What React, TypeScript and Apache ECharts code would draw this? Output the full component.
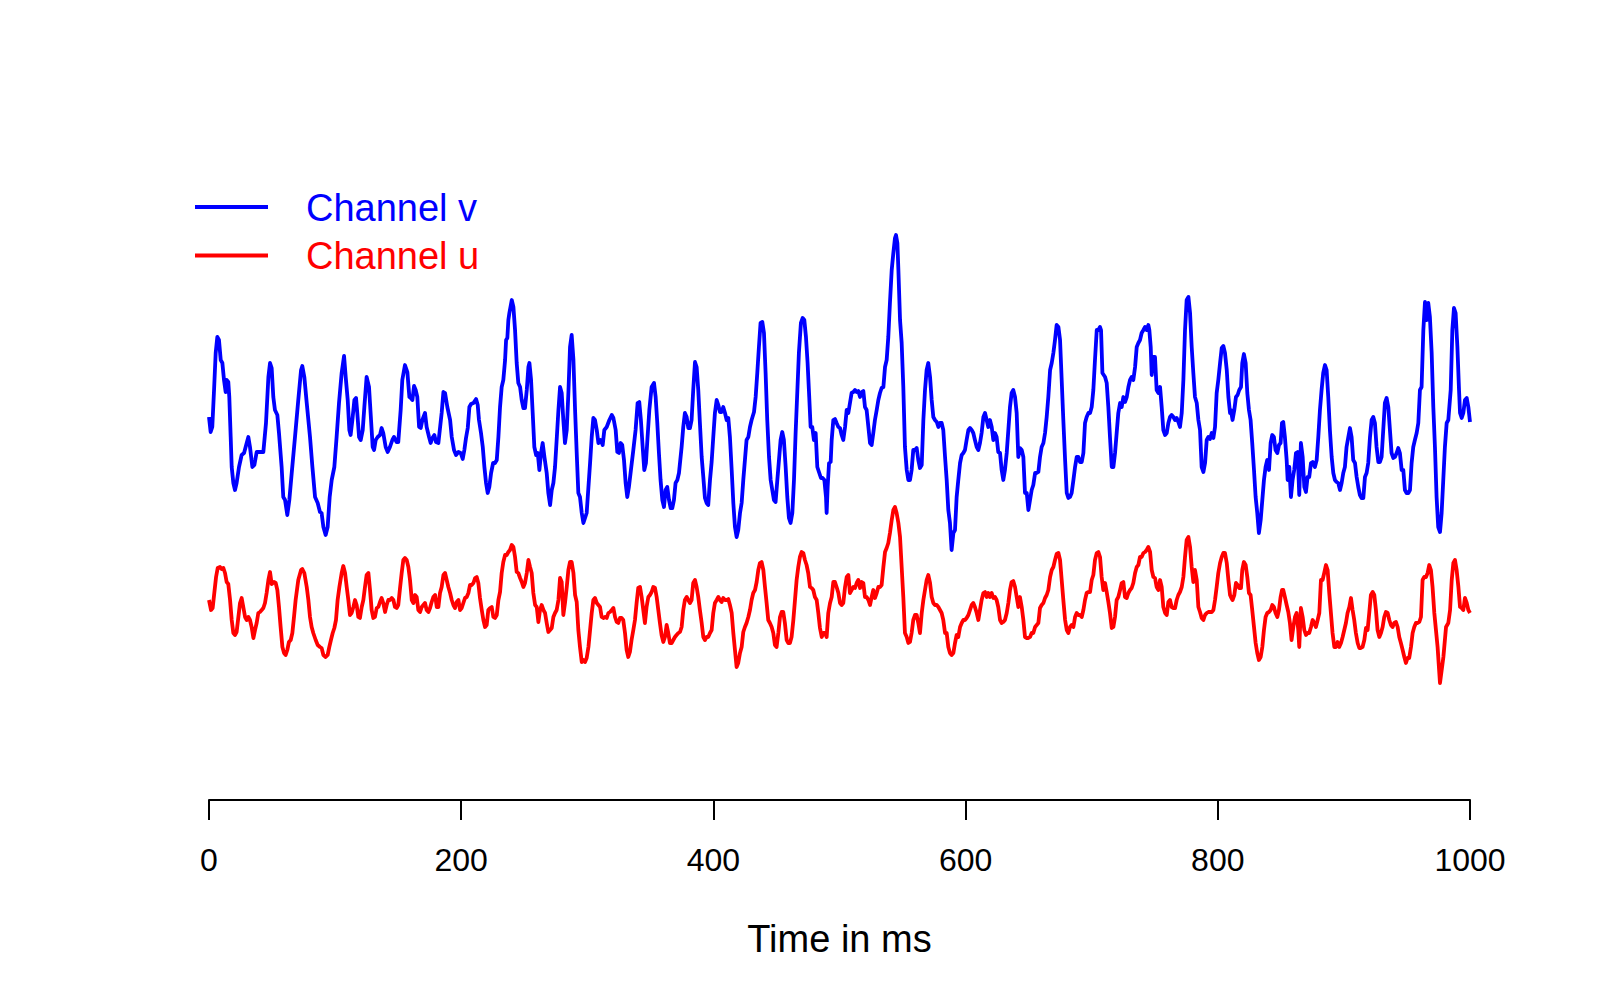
import React, { useEffect, useRef } from "react";
import * as echarts from "echarts";

// [time in ms, amplitude] samples
const channelV: number[][] = [
  [0,3.83],[1.3,3.68],[2.6,3.73],[4,4.1],[5.3,4.47],[6.6,4.63],[7.9,4.6],[9.3,4.4],[10.6,4.37],[11.9,4.2],[13.2,4.08],[14,4.2],[15.3,4.18],[16.1,4.03],[17.2,3.63],[18,3.33],[19.3,3.17],[20.6,3.1],[21.9,3.17],[23.8,3.33],[25.9,3.45],[27.8,3.47],[29.9,3.57],[31.2,3.63],[32.5,3.53],[34.4,3.33],[36,3.35],[37.8,3.48],[40.4,3.48],[43.1,3.48],[45.2,3.77],[47.1,4.23],[48.4,4.37],[49.7,4.32],[51,4.03],[52.3,3.9],[54.2,3.85],[55.5,3.67],[57.6,3.33],[58.9,3.03],[60.3,3],[62.1,2.85],[63.7,3],[65.6,3.27],[68.2,3.63],[70.8,4],[73,4.3],[74,4.34],[75.6,4.23],[77.5,3.97],[80.1,3.63],[82,3.33],[84.1,3.03],[86.2,2.97],[88,2.88],[89.3,2.87],[90.7,2.73],[92.5,2.65],[94.1,2.73],[95.7,3.03],[97.3,3.2],[99.4,3.33],[101.2,3.63],[103.1,3.97],[105.2,4.27],[107.1,4.44],[108.4,4.23],[110,4],[111.3,3.7],[112.3,3.65],[113.7,3.8],[115.3,4],[116.6,4.02],[117.6,3.87],[119,3.63],[120.3,3.6],[121.9,3.7],[123.2,3.93],[125,4.23],[126.9,4.13],[128.5,3.8],[129.8,3.53],[130.9,3.5],[132.2,3.6],[133.8,3.63],[135.6,3.65],[136.9,3.72],[138.2,3.67],[140.1,3.53],[141.7,3.48],[143.5,3.53],[145.4,3.6],[146.7,3.63],[148.8,3.58],[150.1,3.58],[152,3.9],[153.3,4.2],[155.4,4.35],[157.3,4.28],[158.9,4.03],
  [160,4.02],[161.3,4],[162.6,4.14],[163.9,4.1],[165.2,4.03],[166.6,3.73],[167.9,3.72],[169.2,3.8],[171.3,3.87],[172.6,3.73],[174.5,3.63],[175.8,3.57],[177.1,3.62],[178.7,3.65],[180,3.58],[181.9,3.57],[183.2,3.72],[184.5,3.87],[185.9,4.08],[187.2,4.07],[189,3.93],[191.2,3.8],[192.5,3.63],[194.3,3.5],[195.9,3.45],[197.8,3.48],[199.6,3.47],[201.2,3.41],[202.5,3.5],[203.8,3.62],[205.2,3.72],[206.5,3.93],[207.8,3.96],[209.7,3.97],[211.8,4.01],[213.1,3.95],[214.1,3.8],[215.7,3.67],[217.1,3.53],[218.4,3.33],[219.7,3.17],[221,3.07],[222.3,3.13],[223.7,3.27],[225.3,3.37],[226.8,3.37],[228.2,3.4],[229.5,3.63],[230.8,3.93],[232.1,4.13],[233.4,4.2],[234.8,4.4],[235.6,4.6],[236.6,4.62],[237.4,4.8],[238.2,4.87],[240.1,5],[241.4,4.93],[242.7,4.7],[244,4.37],[245.3,4.17],[246.7,4.13],[248,4],[249.3,3.92],[250.6,3.92],[252,4.1],[253.3,4.33],[254.1,4.37],[255.4,4.2],[256.7,3.87],[258,3.53],[259.4,3.45],[260.7,3.47],[262,3.3],[263.3,3.47],[264.6,3.57],[266,3.43],[267.8,3.27],[269.1,3.07],[270.5,2.95],[271.8,3.1],[273.1,3.17],[274.4,3.33],[275.7,3.6],[277.1,3.9],[278.4,4.13],[279.7,4.07],[281,3.8],[282.3,3.57],[283.7,3.7],[285,4.07],[286.3,4.53],[287.6,4.65],[289,4.4],[290.3,3.9],[291.6,3.47],[292.9,3.07],[294.2,3.03],[295.6,2.87],[296.9,2.77],[298.2,2.82],[299.5,2.87],[300.9,3.13],[302.2,3.37],[303.5,3.63],[304.8,3.82],[306.1,3.8],[307.5,3.7],[308.8,3.57],[310.6,3.6],[312.2,3.55],[313.5,3.7],[315.4,3.73],[317.5,3.8],[319.4,3.85],[320.7,3.82],
  [322.5,3.7],[323.8,3.48],[325.1,3.47],[326.4,3.57],[327.7,3.55],[329.1,3.4],[330.4,3.17],[331.7,3.03],[333,3.13],[334.6,3.3],[336.5,3.5],[338.3,3.7],[339.9,3.97],[341.2,3.98],[342.5,3.8],[343.9,3.53],[345.2,3.3],[346.5,3.37],[347.8,3.63],[349.2,3.9],[351,4.13],[352.9,4.17],[354.2,4.03],[355.5,3.77],[356.8,3.47],[358.1,3.2],[359.5,3],[360.8,2.93],[362.1,3.1],[363.4,3.13],[364.8,3],[366.1,2.92],[367.4,2.92],[368.7,3],[370,3.17],[371.4,3.2],[372.7,3.27],[374.8,3.53],[376.1,3.73],[377.4,3.87],[378.8,3.83],[380.1,3.72],[381.4,3.72],[382.7,3.8],[384,4.1],[385.4,4.38],[386.7,4.33],[388,4.1],[389.3,3.77],[390.7,3.43],[392,3.23],[393.3,3.02],[394.6,2.97],[395.9,2.95],[397.3,3.2],[398.6,3.38],[399.9,3.63],[401.2,3.87],[402.6,4],[403.9,3.95],[405.2,3.88],[406.5,3.88],[407.8,3.93],[409.2,3.87],[410.5,3.8],[411.8,3.82],[413.1,3.63],[414.5,3.3],[415.8,2.97],[417.1,2.73],[418.4,2.63],[419.7,2.7],[421.1,2.87],[422.4,2.97],[423.7,3.2],[425,3.4],[426.3,3.6],[427.7,3.63],[429,3.73],[430.3,3.8],[432.2,3.88],[433.5,4.03],[434.8,4.27],[436.1,4.53],[437.4,4.77],[438.8,4.78],[440.1,4.67],[441.4,4.27],[442.7,3.8],[444.1,3.43],[445.4,3.2],[446.7,3.1],[448,3],[449.3,2.98],[450.7,3.2],[452,3.4],[453.3,3.6],[454.6,3.68],[455.9,3.6],[457.3,3.33],[458.6,3.03],[459.9,2.82],[461.2,2.77],[462.6,2.87],[463.9,3.2],[465.2,3.67],[466.5,4.07],[467.8,4.47],[469.4,4.77],[470.8,4.82],[472.1,4.8],[473.4,4.63],[474.7,4.37],[476,4.03],[477.1,3.73],[478.4,3.73],[479.7,3.6],[481.1,3.67],[482.4,3.33],[483.7,3.28],
  [485.3,3.22],[486.6,3.22],[488,3.2],[489.3,3.03],[489.8,2.87],[490.6,3.13],[491.7,3.37],[493,3.38],[493.8,3.6],[495.1,3.8],[496.4,3.81],[497.7,3.77],[499.1,3.73],[500.4,3.72],[501.7,3.65],[503,3.6],[504.4,3.73],[505.7,3.9],[507,3.87],[508.3,3.97],[509.6,4.07],[511,4.08],[512.3,4.1],[513.6,4.08],[514.9,4.09],[516.3,4.03],[517.6,4.08],[518.9,4.09],[520.2,3.93],[521.5,3.9],[522.9,3.73],[524.2,3.57],[525.5,3.55],[526.8,3.67],[528.1,3.8],[529.5,3.9],[530.8,4],[532.1,4.07],[533.4,4.12],[534.8,4.13],[536.1,4.33],[537.4,4.4],[538.7,4.63],[540,4.97],[541.4,5.3],[542.7,5.47],[544,5.62],[544.8,5.65],[545.9,5.57],[546.7,5.3],[548,4.8],[549.3,4.57],[550.6,4.13],[551.9,3.53],[553.3,3.3],[554.6,3.2],[555.9,3.2],[557.2,3.3],[558.5,3.5],[559.9,3.5],[561.2,3.52],[562.5,3.4],[563.8,3.32],[565.2,3.35],[566.5,3.8],[567.8,4.1],[569.1,4.3],[570.4,4.37],[571.8,4.23],[573.1,4],[574.4,3.83],[575.7,3.8],[577.1,3.78],[578.4,3.73],[579.7,3.77],[581,3.77],[582.3,3.7],[583.7,3.43],[585,3.2],[586.3,2.9],[587.6,2.77],[588.9,2.5],[590.3,2.67],[591.6,2.7],[592.9,3.03],[594.2,3.2],[595.6,3.37],[596.9,3.45],[598.2,3.47],[599.5,3.5],[600.8,3.6],[602.2,3.7],[603.5,3.72],[604.8,3.7],[606.1,3.67],[607.4,3.6],[608.8,3.53],[610.1,3.5],[611.4,3.57],[612.7,3.67],[614.1,3.83],[615.4,3.87],[616.7,3.8],[618,3.73],[619.3,3.8],[620.7,3.73],[622,3.6],[623.3,3.67],[624.6,3.63],[625.9,3.48],[627.3,3.47],[628.6,3.3],[629.9,3.2],[631.2,3.3],[632.6,3.47],[633.9,3.7],[635.2,3.93],[636.5,4.07],[637.8,4.1],[639.2,4.03],[640.5,3.87],[641.8,3.43],[643.1,3.52],[644.5,3.5],[645.8,3.43],[647.1,3.07],
  [648.5,3.07],[649.8,2.9],[651.1,3],[652.4,3.1],[653.7,3.15],[655.1,3.27],[656.4,3.27],[657.7,3.28],[659,3.43],[660.3,3.53],[661.7,3.57],[663,3.67],[664.3,3.83],[665.6,4.03],[667,4.3],[668.3,4.37],[669.6,4.47],[670.9,4.6],[672.2,4.75],[673.6,4.73],[674.9,4.6],[676.2,4.2],[677.5,3.8],[678.9,3.4],[680.2,3.07],[681.5,3.02],[682.8,3.03],[684.1,3.07],[685.5,3.2],[686.8,3.33],[688.1,3.43],[689.4,3.43],[690.7,3.38],[692.1,3.38],[693.4,3.47],[694.7,3.77],[696,3.83],[697.4,3.87],[698.7,3.87],[700,3.93],[701.3,4.1],[702.6,4.4],[704,4.7],[705.3,4.7],[706.6,4.73],[707.4,4.7],[708.5,4.27],[710.6,4.23],[711.9,4.17],[713.2,3.93],[714.5,3.63],[715.9,3.33],[717.2,3.33],[718.5,3.47],[719.8,3.67],[721.1,3.87],[722.5,3.97],[723.8,3.93],[725.1,4.03],[726.4,3.98],[727.8,4.03],[729.1,4.13],[730.4,4.2],[731.7,4.23],[733,4.2],[734.4,4.33],[735.7,4.53],[737,4.57],[738.3,4.6],[739.6,4.67],[741,4.7],[742.3,4.73],[743.6,4.7],[744.9,4.75],[745.7,4.7],[746.8,4.53],[747.6,4.25],[748.9,4.43],[750.2,4.43],[751.5,4.1],[752.9,4.07],[754.2,4.13],[755.5,3.93],[756.8,3.7],[758.2,3.65],[759.5,3.67],[760.8,3.77],[762.1,3.83],[763.4,3.85],[764.8,3.83],[766.1,3.8],[767.4,3.82],[768.7,3.78],[770,3.73],[771.4,3.87],[772.7,4.2],[774,4.7],[775.3,5],[776.7,5.03],[778,4.87],[779.3,4.53],[780.6,4.27],[781.9,4.03],[783.3,3.97],[784.6,3.8],[785.9,3.7],[787.2,3.33],[788.6,3.28],[789.9,3.37],[791.2,3.6],[792.5,3.63],[793.8,3.61],[795.2,3.67],[796.5,3.62],[797.8,3.73],[799.1,4.07],[800.4,4.2],[801.8,4.37],[803.1,4.52],[804.4,4.54],[805.7,4.47],[807.1,4.3],[808.4,4.03],[809.7,3.87],
  [810.4,3.9],[811.7,3.8],[813.1,3.9],[814.4,4.03],[815.7,4.05],[817,4.1],[818.4,4.13],[819.4,4.37],[820.7,4.46],[822.1,4.37],[823.4,4.07],[824.7,3.9],[826,3.8],[827.3,3.57],[828.7,3.3],[830,3.03],[831.3,2.87],[832.6,2.67],[834,2.8],[835.3,3],[836.6,3.2],[837.9,3.33],[839.2,3.4],[840.6,3.3],[841.9,3.57],[843.2,3.65],[844.5,3.63],[845.8,3.5],[847.2,3.47],[848.5,3.55],[849.8,3.57],[850.9,3.77],[851.9,3.78],[853.2,3.63],[854.6,3.4],[855.4,3.2],[856.7,3.33],[858,3.03],[859.3,3.2],[860.6,3.3],[862,3.47],[863.3,3.48],[864.6,3.05],[865.9,3.57],[867.3,3.43],[868.6,3.13],[869.9,3.08],[871.2,3.23],[872.5,3.23],[873.9,3.37],[875.2,3.38],[877,3.33],[878.4,3.4],[879.7,3.63],[881,3.9],[882.3,4.1],[883.6,4.27],[885,4.35],[886.3,4.3],[887.6,4.03],[888.9,3.7],[890.3,3.43],[891.6,3.27],[892.9,3.2],[894.2,3.18],[895.5,3.17],[896.9,3.1],[898.2,3.17],[899.5,3.27],[900.8,3.33],[902.1,3.53],[903.5,3.63],[904.8,3.72],[906.1,3.63],[907.4,3.4],[908.8,3.37],[910.1,3.23],[911.4,3.13],[912.7,3.05],[914,3.02],[915.4,3.02],[916.7,3.23],[918,3.27],[919.3,3.37],[920.7,3.63],[922,3.8],[923.3,3.83],[924.6,3.77],[925.9,3.53],[927.3,3.38],[928.6,3.38],[929.9,3.43],[931.2,3.7],[932.5,3.97],[933.9,4.02],[935.2,3.93],[936.5,3.7],[937.8,3.47],[939.2,3.42],[940.5,3.43],[941.8,3.47],[943.1,3.52],[944.4,3.47],[945.8,3.3],[947.1,3.3],[948.4,3.1],[949.7,3.07],[951.1,3.07],[952.4,3.1],[953.7,3.37],[955,3.53],[956.3,3.6],[957.7,3.67],[959,3.77],[960.3,4.1],[961.6,4.13],[963,4.7],[964.3,4.98],[965.6,4.8],[966.9,4.97],[968.2,4.83],[969.6,4.47],[970.9,3.93],[972.2,3.53],[973.5,3.03],[974.8,2.73],[976.2,2.68],[977.5,2.87],[978.8,3.2],[980.1,3.53],[981.5,3.77],[982.8,3.8],
  [984.7,4.1],[986,4.7],[987.3,4.92],[988.6,4.87],[990,4.53],[991.3,4.1],[992.1,3.87],[993.4,3.82],[994.7,3.87],[996,4],[997.4,4.02],[998.7,3.93],[1000,3.78],
];

const channelU: number[][] = [
  [0,2],[1.6,1.9],[2.9,1.92],[4.2,2.07],[5.6,2.23],[6.9,2.32],[8.7,2.33],[10,2.31],[11.4,2.32],[12.7,2.27],[14,2.18],[15.3,2.16],[16.7,2],[18,1.8],[19.3,1.67],[20.6,1.65],[21.9,1.68],[23.3,1.83],[24.6,1.97],[25.9,2.02],[27.2,1.93],[28.6,1.83],[29.9,1.8],[31.2,1.83],[32.5,1.8],[33.8,1.73],[35.2,1.62],[36.5,1.7],[37.8,1.77],[39.1,1.87],[40.4,1.88],[41.8,1.9],[43.1,1.92],[44.4,1.97],[45.7,2.07],[47.1,2.2],[48.4,2.28],[49.7,2.16],[51.5,2.18],[52.9,2.17],[54.2,2.1],[55.5,1.93],[56.8,1.73],[58.2,1.53],[59.5,1.47],[60.8,1.45],[62.1,1.5],[63.4,1.58],[64.8,1.6],[66.1,1.67],[67.4,1.83],[68.7,2],[70.8,2.2],[73,2.3],[74,2.31],[75.6,2.27],[77.5,2.13],[78.8,2],[80.1,1.83],[81.4,1.73],[82.7,1.67],[84.6,1.6],[86.2,1.55],[88,1.53],[89.3,1.52],[90.7,1.45],[92.5,1.43],[94.1,1.45],[95.4,1.53],[96.7,1.6],[98.1,1.67],[99.4,1.72],[100.7,1.8],[102,2],[103.4,2.13],[105.2,2.27],[106.5,2.34],[107.9,2.27],[109.2,2.13],[110.5,2],[111.8,1.85],[113.1,1.87],[114.5,1.93],[115.8,2],[117.1,1.95],[118.4,1.83],[119.7,1.82],[121.1,1.93],[122.4,2],[123.7,2.13],[125,2.25],[126.4,2.27],[127.7,2.1],[129,1.9],[130.3,1.82],[131.6,1.83],[133,1.92],[134.3,1.93],[135.6,1.98],[136.9,2.02],[138.2,1.97],[139.6,1.88],[140.9,1.95],[142.2,2],[143.5,2],[144.9,2.02],[146.2,2],[147.5,1.93],[148.8,1.92],[150.1,1.95],[151.5,2.12],[152.8,2.27],[154.1,2.4],[155.4,2.42],[156.8,2.4],[158.1,2.33],
  [159.4,2.2],[160.8,2],[162.1,1.97],[163.4,2.05],[164.7,2.03],[166,1.9],[167.4,1.88],[168.7,1.93],[170,1.95],[171.3,1.97],[172.6,1.9],[174,1.88],[175.3,1.92],[176.6,1.98],[177.9,2.03],[179.3,2.05],[180.6,1.93],[181.9,1.93],[183.2,2.07],[184.5,2.13],[185.9,2.25],[187.2,2.27],[188.5,2.2],[189.8,2.13],[191.2,2.07],[192.5,2],[193.8,1.95],[195.1,1.92],[196.4,1.98],[197.8,2],[199.1,1.9],[200.4,1.92],[201.7,1.97],[203,2.02],[204.4,2.03],[205.7,2.07],[207,2.15],[208.3,2.15],[209.7,2.17],[211,2.22],[212.3,2.23],[213.6,2.17],[214.9,2.02],[216.3,1.9],[217.6,1.8],[218.9,1.73],[220.2,1.75],[221.5,1.9],[222.9,1.92],[224.2,1.93],[225.5,1.83],[226.8,1.82],[228.2,1.85],[229.5,2],[230.8,2.08],[232.1,2.27],[233.4,2.38],[234.8,2.45],[236.1,2.45],[237.4,2.48],[238.7,2.5],[240.1,2.55],[241.4,2.53],[242.7,2.43],[244,2.28],[245.3,2.27],[246.7,2.22],[248,2.18],[249.3,2.13],[250.6,2.17],[252,2.27],[253.3,2.4],[254.6,2.33],[255.9,2.27],[257.2,2.07],[258.6,1.95],[259.9,1.93],[261.2,1.78],[262.5,1.9],[263.8,1.95],[265.2,1.9],[266.5,1.87],[267.8,1.77],[269.1,1.68],[270.5,1.7],[271.8,1.72],[273.1,1.83],[274.4,1.87],[275.7,1.9],[277.1,2],[278.4,2.22],[279.7,2.18],[281,1.85],[282.3,1.97],[283.7,2.13],[285,2.3],[286.3,2.38],[287.6,2.38],[289,2.27],[290.3,2.05],[291.6,1.98],[292.9,1.7],[294.2,1.53],[295.6,1.38],[296.9,1.4],[298.2,1.38],[299.5,1.42],[300.9,1.53],[302.2,1.7],[303.5,1.87],[304.8,2],[306.1,2.02],[307.5,1.97],[308.8,1.95],[310.1,1.93],[311.4,1.83],[312.7,1.82],[314.1,1.83],[315.4,1.82],[316.7,1.87],[318,1.88],[319.4,1.9],[320.7,1.92],[322,1.83],
  [323.3,1.78],[324.6,1.77],[325.9,1.82],[327.2,1.82],[328.5,1.8],[329.9,1.67],[331.2,1.5],[332.5,1.43],[333.8,1.48],[335.1,1.6],[336.5,1.7],[337.8,1.8],[339.1,1.97],[340.4,2.12],[341.8,2.13],[343.1,2.03],[344.4,1.9],[345.7,1.77],[347,1.93],[348.4,2.03],[349.7,2.05],[351,2.08],[352.3,2.13],[353.7,2.12],[355,2.03],[356.3,1.9],[357.6,1.77],[358.9,1.65],[360.3,1.58],[361.6,1.63],[362.9,1.75],[364.2,1.67],[365.5,1.57],[366.9,1.57],[368.2,1.6],[369.5,1.63],[370.8,1.65],[372.2,1.67],[373.5,1.68],[374.8,1.73],[376.1,1.9],[377.4,2],[378.8,2.03],[380.1,2],[381.4,1.97],[382.7,2],[384,2.17],[385.4,2.2],[386.7,2.13],[388,2.03],[389.3,1.9],[390.7,1.77],[392,1.63],[393.3,1.6],[394.6,1.63],[395.9,1.63],[397.3,1.67],[398.6,1.7],[399.9,1.87],[401.2,1.97],[402.6,2],[403.9,2.03],[405.2,2],[406.5,1.98],[407.8,2.02],[409.2,2],[410.5,2],[411.8,2.01],[413.1,1.95],[414.5,1.87],[415.8,1.67],[417.1,1.5],[418.4,1.33],[419.7,1.37],[421.1,1.47],[422.4,1.53],[423.7,1.68],[425,1.73],[426.3,1.77],[427.7,1.83],[429,1.9],[430.3,2],[431.6,2.07],[433,2.1],[434.3,2.18],[435.6,2.3],[436.9,2.37],[438.2,2.38],[439.6,2.3],[440.9,2.13],[442.2,1.97],[443.5,1.8],[444.8,1.77],[446.2,1.73],[447.5,1.67],[448.8,1.55],[450.1,1.53],[451.5,1.67],[452.8,1.83],[454.1,1.88],[455.4,1.88],[456.7,1.77],[458.1,1.6],[459.4,1.57],[460.7,1.57],[462,1.63],[463.4,1.8],[464.7,2],[466,2.2],[467.3,2.33],[468.6,2.43],[470,2.48],[471.3,2.47],[472.6,2.4],[473.9,2.35],[475.2,2.27],[476.6,2.13],[477.9,2.12],[479.2,2.1],[480.5,2.03],[481.9,2],[483.2,1.87],[484.5,1.72],
  [485.9,1.63],[487.2,1.67],[488.5,1.67],[489.8,1.63],[491.1,1.87],[492.5,1.97],[493.8,2.03],[495.1,2.18],[496.4,2.18],[497.7,2.13],[499.1,2.07],[500.4,1.97],[501.7,1.95],[503,1.97],[504.4,2.13],[505.7,2.23],[507,2.25],[508.3,2.07],[509.6,2.1],[511,2.13],[512.3,2.12],[513.6,2.17],[514.9,2.2],[516.3,2.12],[517.6,2.18],[518.9,2.17],[520.2,2.03],[521.5,2.03],[522.9,2],[524.2,1.95],[525.5,2.03],[526.8,2.1],[528.1,2.02],[529.5,2.07],[530.8,2.13],[532.1,2.13],[533.4,2.15],[534.8,2.33],[536.1,2.48],[537.4,2.52],[538.7,2.57],[540,2.67],[541.4,2.8],[542.7,2.9],[544,2.93],[545.3,2.87],[546.7,2.77],[548,2.63],[549.3,2.33],[550.6,2.03],[551.9,1.67],[553.3,1.63],[554.6,1.57],[555.9,1.58],[557.2,1.67],[558.5,1.8],[559.9,1.85],[561.2,1.85],[562.5,1.77],[563.8,1.67],[565.2,1.87],[566.5,2],[567.8,2.1],[569.1,2.2],[570.4,2.25],[571.8,2.17],[573.1,2.03],[574.4,1.97],[575.7,1.95],[577.1,1.95],[578.4,1.93],[579.7,1.9],[581,1.87],[582.3,1.8],[583.7,1.67],[585,1.67],[586.3,1.53],[587.6,1.47],[588.9,1.45],[590.3,1.47],[591.6,1.57],[592.9,1.65],[594.2,1.63],[595.6,1.73],[596.9,1.77],[598.2,1.8],[599.5,1.8],[600.8,1.82],[602.2,1.85],[603.5,1.9],[604.8,1.95],[606.1,1.97],[607.4,1.93],[608.8,1.87],[610.1,1.8],[611.4,1.9],[612.7,2],[614.1,2.07],[615.4,2.08],[616.7,2.03],[618,2.07],[619.3,2.03],[620.7,2.07],[622,2.02],[623.3,2.03],[624.6,2],[625.9,1.93],[627.3,1.8],[628.6,1.77],[629.9,1.78],[631.2,1.8],[632.6,1.87],[633.9,1.97],[635.2,2.1],[636.5,2.18],[637.8,2.19],[639.2,2.13],[640.5,2.03],[641.8,1.93],[643.1,2.03],[644.5,1.93],[645.8,1.8],[647.1,1.63],
  [648.5,1.62],[649.8,1.62],[651.1,1.63],[652.4,1.67],[653.7,1.67],[655.1,1.73],[656.4,1.75],[657.7,1.77],[659,1.92],[660.3,1.95],[661.7,1.97],[663,2.02],[664.3,2.05],[665.6,2.1],[667,2.23],[668.3,2.3],[669.6,2.33],[670.9,2.4],[672.2,2.46],[673.6,2.47],[674.9,2.4],[676.2,2.2],[677.5,2],[678.9,1.8],[680.2,1.7],[681.5,1.67],[682.8,1.73],[684.1,1.75],[685.5,1.73],[686.8,1.83],[688.1,1.87],[689.4,1.85],[690.7,1.85],[692.1,1.83],[693.4,1.9],[694.7,2],[696,2.07],[697.4,2.08],[698.7,2.08],[700,2.2],[701.3,2.25],[702.6,2.4],[704,2.47],[705.3,2.48],[706.6,2.43],[707.9,2.23],[709.2,2.1],[710.6,2.17],[711.9,2.08],[713.2,1.98],[714.5,1.87],[715.9,1.72],[717.2,1.73],[718.5,1.83],[719.8,2],[721.1,2.03],[722.5,2.1],[723.8,2.17],[725.1,2.18],[726.4,2.03],[727.8,2.02],[729.1,2.07],[730.4,2.1],[731.7,2.12],[733,2.17],[734.4,2.27],[735.7,2.33],[737,2.35],[738.3,2.43],[739.6,2.43],[741,2.47],[742.3,2.48],[743.6,2.5],[744.9,2.53],[746.3,2.48],[747.6,2.3],[748.9,2.23],[750.2,2.22],[751.5,2.13],[752.9,2.1],[754.2,2.2],[755.5,2.13],[756.8,1.93],[758.2,1.87],[759.5,1.85],[760.8,1.98],[762.1,2],[763.4,1.93],[764.8,1.92],[766.1,1.92],[767.4,2],[768.7,2.05],[770,2.08],[771.4,2.13],[772.7,2.23],[774,2.43],[775.3,2.6],[776.7,2.63],[778,2.53],[779.3,2.33],[780.6,2.18],[781.9,2.3],[783.3,2.2],[784.6,1.93],[785.9,1.88],[787.2,1.82],[788.6,1.8],[789.9,1.85],[791.2,1.87],[792.5,1.88],[793.8,1.88],[795.2,1.88],[796.5,1.9],[797.8,2],[799.1,2.13],[800.4,2.27],[801.8,2.37],[803.1,2.43],[804.4,2.47],[805.7,2.47],[807.1,2.37],[808.4,2.2],[809.7,2.05],
  [810.4,2.03],[811.7,2],[813.1,2.05],[814.4,2.17],[815.7,2.15],[817,2.12],[818.4,2.12],[819.4,2.3],[820.7,2.38],[822.1,2.35],[823.4,2.23],[824.7,2.07],[826,2.05],[827.3,1.9],[828.7,1.73],[830,1.57],[831.3,1.47],[832.6,1.4],[834,1.43],[835.3,1.53],[836.6,1.7],[837.9,1.83],[839.2,1.87],[840.6,1.88],[841.9,1.9],[843.2,1.95],[844.5,1.93],[845.8,1.87],[847.2,1.83],[848.5,1.9],[849.8,2.03],[850.9,2.1],[851.9,2.1],[853.2,2.03],[854.6,1.95],[855.9,1.88],[857.2,1.77],[858.5,1.6],[859.9,1.73],[861.2,1.83],[862.5,1.87],[863.8,1.7],[864.6,1.53],[865.9,1.92],[867.3,1.83],[868.6,1.7],[869.9,1.65],[871.2,1.67],[872.5,1.67],[873.9,1.73],[875.2,1.8],[876.5,1.77],[877.8,1.73],[879.2,1.8],[880.5,1.87],[881.8,2.2],[883.1,2.2],[884.4,2.27],[885.8,2.35],[887.1,2.3],[888.4,2.07],[889.7,1.87],[891,1.67],[892.4,1.53],[893.7,1.53],[895,1.58],[896.3,1.53],[897.7,1.57],[899,1.63],[900.3,1.7],[901.6,1.77],[902.9,1.87],[904.3,1.93],[905.6,2.02],[906.9,1.9],[908.2,1.8],[909.5,1.67],[910.9,1.57],[912.2,1.52],[913.5,1.52],[914.8,1.53],[916.2,1.6],[917.5,1.72],[918.8,1.7],[920.1,1.87],[921.4,2.05],[922.8,2.08],[924.1,2.05],[925.4,1.9],[926.7,1.7],[928.1,1.63],[929.4,1.67],[930.7,1.73],[932,1.83],[933.3,1.88],[934.7,1.87],[936,1.8],[937.3,1.75],[938.6,1.73],[939.9,1.77],[941.3,1.78],[942.6,1.73],[943.9,1.63],[945.2,1.57],[946.6,1.5],[947.9,1.43],[949.2,1.37],[950.5,1.42],[951.8,1.42],[953.2,1.53],[954.5,1.67],[955.8,1.73],[957.1,1.77],[958.5,1.77],[959.8,1.78],[961.1,1.83],[962.4,2.2],[963.7,2.23],[965.1,2.23],[966.4,2.27],[967.7,2.35],[969,2.3],[970.3,2.13],[971.7,1.87],[973,1.7],[974.3,1.53],
  [976.2,1.17],[978.9,1.43],[981,1.73],[982.8,1.77],[984.2,1.9],[985.5,2.2],[986.8,2.37],[988.1,2.4],[989.4,2.3],[990.8,2.13],[992.1,1.93],[993.4,1.92],[994.7,1.9],[996,2.02],[997.4,1.97],[998.7,1.9],[1000,1.87],
];

const seriesNames = ["Channel v", "Channel u"];
const seriesColors = ["#0000ff", "#ff0000"];
const xTickInterval = 200;
const xLabel = "Time in ms";

const FONT = '"Liberation Sans", Arial, Helvetica, sans-serif';
const LINE_W = 3.8;

export default function App() {
  const ref = useRef<HTMLDivElement>(null);
  useEffect(() => {
    if (!ref.current) return;
    const chart = echarts.init(ref.current, null, { renderer: "svg" });
    const legendRows = seriesNames.map((name, i) => ({
      type: "group",
      children: [
        {
          type: "line",
          shape: { x1: 195, y1: 207 + i * 48.5, x2: 268, y2: 207 + i * 48.5 },
          style: { stroke: seriesColors[i], lineWidth: LINE_W },
        },
        {
          type: "text",
          x: 306,
          y: 208 + i * 48,
          style: {
            text: name,
            fill: seriesColors[i],
            fontSize: 38,
            fontFamily: FONT,
            verticalAlign: "middle",
            align: "left",
          },
        },
      ],
    }));
    chart.setOption({
      animation: false,
      backgroundColor: "#ffffff",
      textStyle: { fontFamily: FONT },
      grid: { left: 209, right: 130, top: 100, bottom: 200 },
      xAxis: {
        type: "value",
        min: 0,
        max: 1000,
        interval: xTickInterval,
        name: xLabel,
        nameLocation: "middle",
        nameGap: 120,
        nameTextStyle: { fontSize: 38, color: "#000", fontFamily: FONT },
        axisLine: { show: true, onZero: false, lineStyle: { color: "#000", width: 2 } },
        axisTick: { show: true, inside: false, length: 20, lineStyle: { color: "#000", width: 2 } },
        axisLabel: {
          fontSize: 32,
          color: "#000",
          margin: 44,
          fontFamily: FONT,
          formatter: (v: number) => String(v),
        },
        splitLine: { show: false },
      },
      yAxis: {
        type: "value",
        min: 0,
        max: 7,
        show: false,
        splitLine: { show: false },
      },
      series: [
        {
          name: seriesNames[0],
          type: "line",
          data: channelV,
          showSymbol: false,
          symbol: "none",
          lineStyle: { color: seriesColors[0], width: LINE_W, join: "round" },
          itemStyle: { color: seriesColors[0] },
        },
        {
          name: seriesNames[1],
          type: "line",
          data: channelU,
          showSymbol: false,
          symbol: "none",
          lineStyle: { color: seriesColors[1], width: LINE_W, join: "round" },
          itemStyle: { color: seriesColors[1] },
        },
      ],
      graphic: legendRows,
    });
    return () => chart.dispose();
  }, []);
  return (
    <div
      ref={ref}
      style={{ position: "fixed", left: 0, top: 0, width: 1600, height: 1000, background: "#fff" }}
    />
  );
}
